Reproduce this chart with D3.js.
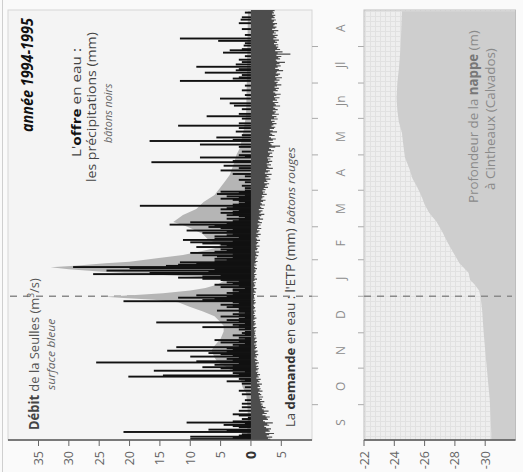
<!DOCTYPE html>
<html><head><meta charset="utf-8">
<script src="https://cdn.jsdelivr.net/npm/d3@7"></script>
<style>body{margin:0;background:#fafafa} svg{display:block}</style>
</head><body>
<script>
// ---- data ----
const monthLabels = ["S","O","N","D","J","F","M","A","M","Jn","Jl","A"];
const monthDays = [30,31,30,31,31,28,31,30,31,30,31,31];
const flowTicks = [35,30,25,20,15,10,5,0,-5];
const depthTicks = [-22,-24,-26,-28,-30];

// ETP (mm/day), one value per day, per month (Sept 1994 .. Aug 1995)
const etpSep = [3.2,2.8,3.5,2.6,3.0,3.8,2.4,3.1,2.9,3.3,2.5,2.2,3.0,2.7,3.6,2.3,2.0,2.8,2.6,3.1,2.4,1.9,2.6,2.2,2.9,2.1,1.8,2.4,2.0,1.7];
const etpOct = [1.9,1.6,2.2,1.5,1.8,1.4,2.0,1.3,1.7,1.5,1.2,1.9,1.4,1.6,1.1,1.5,1.3,1.8,1.0,1.4,1.2,1.6,0.9,1.3,1.1,1.5,1.0,1.2,0.8,1.1,1.3];
const etpNov = [0.9,1.2,0.8,1.0,1.3,0.7,1.1,0.9,0.6,1.0,0.8,1.2,0.7,0.9,1.1,0.6,0.8,1.0,0.7,0.9,0.5,0.8,1.0,0.6,0.7,0.9,0.5,0.8,0.6,0.7];
const etpDec = [0.6,0.8,0.5,0.7,0.9,0.4,0.6,0.8,0.5,0.7,0.4,0.6,0.9,0.5,0.7,0.4,0.6,0.5,0.8,0.4,0.6,0.7,0.5,0.4,0.6,0.8,0.5,0.7,0.4,0.6,0.5];
const etpJan = [0.5,0.7,0.4,0.8,0.6,0.5,0.9,0.4,0.6,0.7,0.5,0.8,0.4,0.6,1.0,0.5,0.7,0.6,0.9,0.5,0.7,0.8,0.6,1.0,0.7,0.5,0.9,0.6,0.8,1.1,0.7];
const etpFeb = [0.8,1.0,0.7,1.2,0.9,0.8,1.3,0.7,1.0,1.1,0.9,1.4,0.8,1.0,1.2,0.9,1.5,1.0,0.8,1.3,1.1,1.6,0.9,1.2,1.4,1.0,1.7,1.2];
const etpMar = [1.3,1.6,1.1,1.8,1.4,1.2,2.0,1.5,1.3,1.7,2.2,1.4,1.6,1.9,1.3,2.1,1.7,1.5,2.3,1.8,1.6,2.0,2.4,1.7,1.9,2.2,1.8,2.6,2.0,2.3,1.9];
const etpApr = [2.4,2.1,2.8,2.3,2.6,3.0,2.2,2.7,2.5,3.2,2.4,2.9,2.6,3.4,2.3,2.8,3.1,2.5,3.6,2.9,2.7,3.3,2.6,3.0,3.5,2.8,3.2,2.7,3.6,3.0];
const etpMay = [3.1,3.5,2.8,3.8,3.3,3.0,4.0,4.8,3.4,3.2,3.7,2.9,3.6,4.1,3.3,3.0,3.9,3.5,3.2,4.3,3.6,3.1,3.8,4.0,3.4,3.7,4.2,3.5,3.9,3.3,4.4];
const etpJun = [3.8,4.2,3.5,4.6,3.9,4.1,3.6,4.4,4.0,3.7,4.8,4.1,3.9,4.5,3.6,4.3,4.0,4.7,3.8,4.2,4.9,4.0,3.7,4.4,4.1,4.6,3.9,4.3,5.0,4.2];
const etpJul = [4.4,3.9,4.7,4.2,5.1,4.0,4.5,4.8,4.1,4.3,5.3,4.6,4.0,4.4,4.9,4.2,4.7,5.6,4.3,4.1,4.8,4.5,5.0,4.2,6.5,4.4,5.2,4.0,4.8,4.3,4.5];
const etpAug = [4.1,4.5,3.8,4.3,4.0,4.6,3.7,4.2,3.9,4.4,3.6,4.1,3.8,4.5,3.5,4.0,4.2,3.7,3.9,4.3,3.6,3.8,4.1,3.4,3.9,3.7,4.0,3.5,3.8,3.6,3.9];

// Rain (mm/day), one value per day, per month
const rainSep = [10,3,10,2,1.5,0,21,4,7,0,2,3,4.5,1,10.6,3,0,1.5,0.5,0,2,3,0,0,2,0,0,1.5,0,0];
const rainOct = [1.5,0,0,1,0,0,0,0,1.5,0,0,2,0,0,1,0,0,1.5,0,4,1,2,0,20.2,14.5,2,3,1,16,3,5];
const rainNov = [8,3,6,2,25.5,9,3,4,2,10,3,5,7,4,13.8,3,4,12.3,2,3,1,5,2,6,1,2,0,3,1,1.5];
const rainDec = [1,0,2,1,8,2,3,1,15.6,2,4,2,1,5,2,3,1,2,5.6,2,2,4,3,5,2,3,21,8,6,12,4];
const rainJan = [9,3,4,2,3,3,1,5,2,6,3,4,2,5,8,12,8,5,26,16.7,7,23.8,6,20,29.3,14,12,9,11.7,6,4];
const rainFeb = [6,3,5.6,8,3,10,6,4,5,3,9,4,5,8,10,3,11.2,6,2,6,4,3,8,4,10.6,3,5,7];
const rainMar = [6,13.4,4,10,3,2,4,1,2,4,3,5,3,2,5,4,3,18.3,3,2,1,2,3,5,2,4,1,5.6,2,5,1];
const rainApr = [0,1,0,1.5,0,0,1,0,2,0,0,1,0,3,0,0,5,0,2,0,4.5,0,0,16.4,3,0,0,8.4,1,2];
const rainMay = [0,0,1.5,0,0,0,2,0,8.4,0,0,16.7,3,0,5.7,0,1.5,0,0,2.5,0,0,2,0,12,0,2,0,0,0,1.5];
const rainJun = [0,7.3,0,2,0,0,0,1.5,0,0,2.8,0,3.5,0,0,0,5.1,0,0,1,0,0,0,1.5,0,0,0,1,0,0];
const rainJul = [0,11.7,0,3,2,0,1.5,0,7.6,0,2.5,2,0,9,0,2.5,0,1.5,0,2,0,0,1,0,0,4.6,0,3.5,1.5,0,0];
const rainAug = [1.2,0,1,0,5.4,0,11.7,0,0,1,0,0,0,0,1.5,0,0,0,0,2,0,0,1.7,0,1.5,0,0,0,1,0,0];

// Discharge of the Seulles (m3/s): day from 1 Sept 1994, value
const flowDay = [0,10,20,30,40,45,50,54,58,62,66,70,76,80,86,92,97,100,105,109,113,117,119,120.5,121.5,123,124.5,127,129,132,135,137,139,141,143,145,146.6,148,150,151.3,154.2,157,160,162.7,165.5,170,175,180,182,185,188,191,196,202,208,214,220,225,235,242,248,263,276,300,330,364];
const flowVal = [0.6,0.6,0.5,0.6,0.8,1.4,1.6,2,3,4,5.5,6,6.5,6,5,4.5,4.5,5,6,7.9,10,12,16,21,24,19,14.5,10,7.5,5.5,4.5,5,10,18,25,30,33,29,24,20,15.5,11.2,8.4,6,5,7,8,10,11,12.8,12,11.2,9,7.8,6,5.1,4.2,3.5,2.8,2.4,1.8,1.2,0.8,0.7,0.6,0.5];

// Depth of the water table at Cintheaux (m): day, depth
const nappeDay = [0,6,20,34,48,62,76,91,100,110,121,127,132,136,142,150,159,168,176,185,193,200,207,215,222,230,240,250,261,270,280,290,303,315,331,345,364];
const nappeDepth = [-30.4,-30.4,-30.35,-30.3,-30.2,-30.1,-30.0,-29.9,-29.85,-29.8,-29.7,-29.6,-29.3,-29.0,-28.9,-28.3,-27.9,-27.5,-27.2,-26.8,-26.3,-26.0,-25.8,-25.5,-25.2,-25.0,-24.7,-24.6,-24.5,-24.3,-24.2,-24.15,-24.2,-24.3,-24.4,-24.45,-24.5];

// ---- drawing ----
const W = 523, H = 472;
const etp = [].concat(etpSep,etpOct,etpNov,etpDec,etpJan,etpFeb,etpMar,etpApr,etpMay,etpJun,etpJul,etpAug);
const rainAll = [].concat(rainSep,rainOct,rainNov,rainDec,rainJan,rainFeb,rainMar,rainApr,rainMay,rainJun,rainJul,rainAug);
const rain = rainAll.map((v,i)=>({d:i, v})).filter(r=>r.v>0);
const etpPts = etp.map((v,i)=>({d:i, v})).concat([{d:etp.length, v:etp[etp.length-1]}]);
const flow = flowDay.map((d,i)=>({d, v: flowVal[i]}));
const nappe = nappeDay.map((d,i)=>({d, v: nappeDepth[i]}));
const monthStarts = monthDays.reduce((a,n)=>{a.push(a[a.length-1]+n); return a;},[0]);

const svg = d3.select("body").append("svg").attr("width",W).attr("height",H);
svg.append("rect").attr("width",W).attr("height",H).attr("fill","#fafafa");
svg.append("line").attr("x1",2.5).attr("x2",2.5).attr("y1",0).attr("y2",H).attr("stroke","#cfcfcf").attr("stroke-width",1);

const defs = svg.append("defs");
const pat = defs.append("pattern").attr("id","grid").attr("patternUnits","userSpaceOnUse").attr("width",5).attr("height",5);
pat.append("rect").attr("width",5).attr("height",5).attr("fill","#eeeeee");
pat.append("path").attr("d","M0,0.5H5M0.5,0V5").attr("stroke","#e1e1e1").attr("stroke-width",1);

// original chart: time to the right, values up; then turned a quarter to the left
const g = svg.append("g").attr("transform",`translate(0,${H}) rotate(-90)`);

const x = d3.scaleLinear().domain([0,365]).range([32,462]);
const y = d3.scaleLinear().domain([35,-5]).range([38.5,281.3]);
const yd = d3.scaleLinear().domain([-22,-32]).range([364,515.5]);
const jan1 = monthStarts[4];

// top panel
g.append("rect").attr("x",32).attr("y",8).attr("width",430).attr("height",304)
  .attr("fill","#f4f4f4").attr("stroke","#d6d6d6").attr("stroke-width",1);
g.append("line").attr("x1",x(jan1)).attr("x2",x(jan1)).attr("y1",10).attr("y2",312)
  .attr("stroke","#8a8a8a").attr("stroke-width",1.3).attr("stroke-dasharray","7,6");

const area = d3.area().x(d=>x(d.d)).y0(y(0)).y1(d=>y(d.v));
g.append("path").datum(flow).attr("d",area).attr("fill","#b5b5b5");

g.append("g").selectAll("rect").data(rain).join("rect")
  .attr("x",d=>x(d.d)).attr("width",1.9)
  .attr("y",d=>y(d.v)).attr("height",d=>y(0)-y(d.v)).attr("fill","#111");

const etpArea = d3.area().x(d=>x(d.d)).y0(y(0)).y1(d=>y(-d.v)).curve(d3.curveStepAfter);
g.append("path").datum(etpPts).attr("d",etpArea).attr("fill","#4d4d4d");

// value axis of the top panel
const axTop = g.append("g").attr("transform","translate(32,0)");
axTop.append("line").attr("x1",0).attr("x2",0).attr("y1",8).attr("y2",312).attr("stroke","#555").attr("stroke-width",1.5);
axTop.selectAll("line.t").data(flowTicks).join("line").attr("class","t")
  .attr("x1",-6).attr("x2",0).attr("y1",d=>y(d)).attr("y2",d=>y(d)).attr("stroke","#666").attr("stroke-width",1);
axTop.selectAll("text").data(flowTicks).join("text")
  .attr("x",-11).attr("y",d=>y(d)).attr("dy","0.36em").attr("text-anchor","end")
  .attr("font-family","Open Sans, sans-serif").attr("font-size",d=>d===0?14:12.5)
  .attr("font-weight",d=>d===0?"bold":"normal")
  .attr("fill",d=>d===0?"#333":"#666").text(d=>Math.abs(d));

// month ticks & labels
g.selectAll("line.mt1").data(monthStarts.slice(1,12)).join("line").attr("class","mt1")
  .attr("x1",d=>x(d)).attr("x2",d=>x(d)).attr("y1",312).attr("y2",318).attr("stroke","#aaa");
g.selectAll("line.mt2").data(monthStarts.slice(1,12)).join("line").attr("class","mt2")
  .attr("x1",d=>x(d)).attr("x2",d=>x(d)).attr("y1",358).attr("y2",364).attr("stroke","#aaa");
g.selectAll("text.ml").data(monthLabels).join("text").attr("class","ml")
  .attr("x",(m,i)=>x((monthStarts[i]+monthStarts[i+1])/2)).attr("y",341).attr("dy","0.35em")
  .attr("text-anchor","middle").attr("font-family","Open Sans, sans-serif").attr("font-size",12)
  .attr("fill","#8c8c8c").text(d=>d);

// bottom panel
g.append("rect").attr("x",32).attr("y",364).attr("width",430).attr("height",151.5)
  .attr("fill","url(#grid)");
const narea = d3.area().x(d=>x(d.d)).y0(yd(-32)).y1(d=>yd(d.v));
g.append("path").datum(nappe).attr("d",narea).attr("fill","#cecece");
g.append("rect").attr("x",32).attr("y",364).attr("width",430).attr("height",151.5)
  .attr("fill","none").attr("stroke","#bdbdbd");
g.append("line").attr("x1",x(jan1)).attr("x2",x(jan1)).attr("y1",364).attr("y2",512)
  .attr("stroke","#8a8a8a").attr("stroke-width",1.3).attr("stroke-dasharray","7,6");
const axBot = g.append("g").attr("transform","translate(32,0)");
axBot.append("line").attr("x1",0).attr("x2",0).attr("y1",364).attr("y2",515.5).attr("stroke","#555").attr("stroke-width",1.5);
axBot.selectAll("line.t").data(depthTicks).join("line").attr("class","t")
  .attr("x1",-6).attr("x2",0).attr("y1",d=>yd(d)).attr("y2",d=>yd(d)).attr("stroke","#666");
axBot.selectAll("text").data(depthTicks).join("text")
  .attr("x",-11).attr("y",d=>yd(d)).attr("dy","0.36em").attr("text-anchor","end")
  .attr("font-family","Open Sans, sans-serif").attr("font-size",12.5)
  .attr("fill","#666").text(d=>d);

// texts: each is fitted to the length it has in the reference
function label(xp, yp, parts, opts){
  const holder = g.append("g");
  const t = holder.append("text").attr("x",0).attr("y",0)
    .attr("font-family","Open Sans, sans-serif").attr("font-size",opts.size)
    .attr("fill",opts.fill||"#333");
  if(opts.style) t.attr("font-style",opts.style);
  if(opts.weight) t.attr("font-weight",opts.weight);
  parts.forEach(p=>{
    const s = t.append("tspan").text(p.t);
    if(p.b) s.attr("font-weight","bold").attr("fill",p.fill||"#111");
    if(p.sup) s.attr("dy",-5).attr("font-size",opts.size*0.65);
    if(p.after) s.attr("dy",5);
  });
  const w = t.node().getBBox().width;
  const k = opts.len ? opts.len / w : 1;
  holder.attr("transform",`translate(${xp},${yp}) scale(${k},1)`);
  return t;
}
label(340,33,[{t:"année 1994-1995"}],{size:16,weight:"bold",style:"italic",fill:"#111",len:114});
label(315,81,[{t:"L'"},{t:"offre",b:true},{t:" en eau :"}],{size:13,fill:"#444",len:109});
label(290,96,[{t:"les précipitations (mm)"}],{size:13,fill:"#444",len:150});
label(329,112,[{t:"bâtons noirs"}],{size:10.5,style:"italic",fill:"#666",len:60});
label(42,39,[{t:"Débit",b:true,fill:"#444"},{t:" de la Seulles (m"},{t:"3",sup:true},{t:"/s)",after:true}],{size:13.5,fill:"#555",len:152});
label(82,55,[{t:"surface bleue"}],{size:11,style:"italic",fill:"#666",len:72});
label(45,295,[{t:"La "},{t:"demande",b:true,fill:"#333"},{t:" en eau : l'ETP (mm)"}],{size:13,fill:"#444",len:199});
label(248,295,[{t:"bâtons rouges"}],{size:11,style:"italic",fill:"#555",len:77});
label(269,478,[{t:"Profondeur de la "},{t:"nappe",b:true,fill:"#777"},{t:" (m)"}],{size:13.5,fill:"#8a8a8a",len:173});
label(282,495,[{t:"à Cintheaux (Calvados)"}],{size:13.5,fill:"#8a8a8a",len:142});
</script>
</body></html>
